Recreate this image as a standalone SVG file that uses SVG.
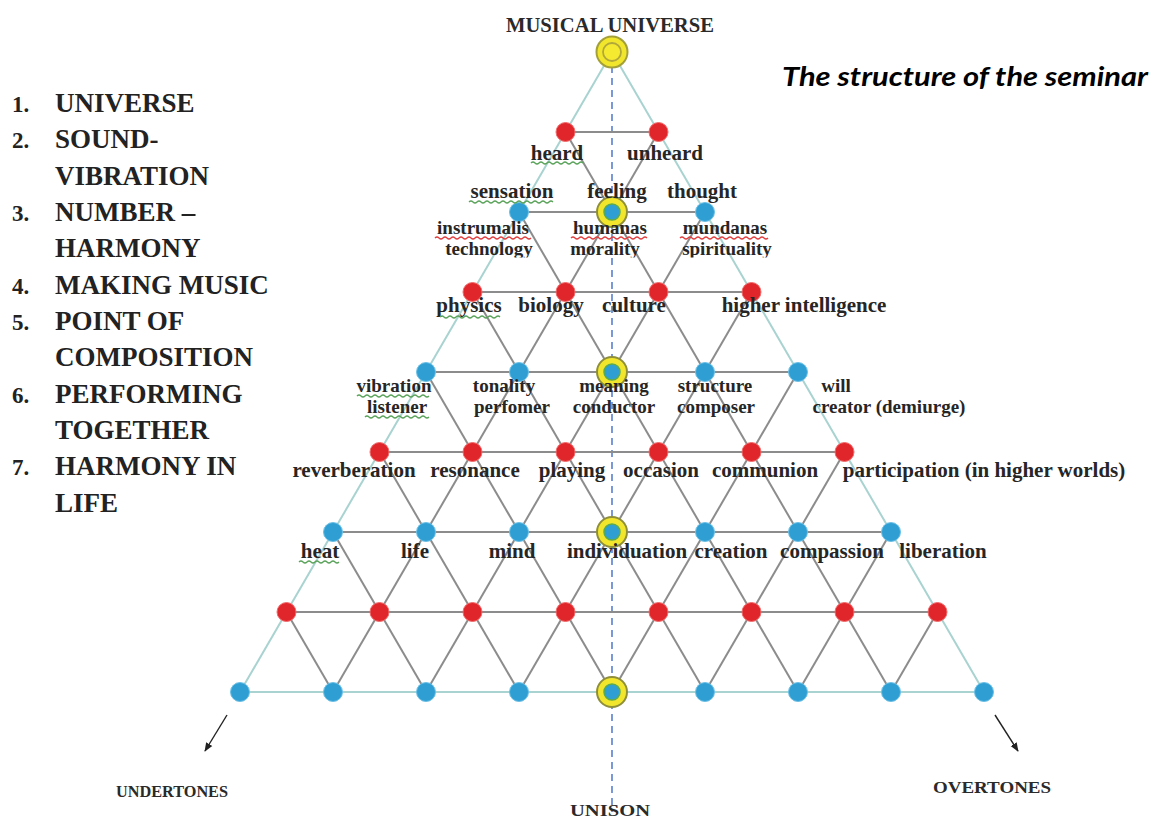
<svg xmlns="http://www.w3.org/2000/svg" xmlns:xlink="http://www.w3.org/1999/xlink" width="1154" height="821" viewBox="0 0 1154 821">
  <style>
    .edge { stroke: #8c8c8c; stroke-width: 2; fill: none; }
    .rim { stroke: #a8d3d0; stroke-width: 2; fill: none; }
    .axis { stroke: #5a7fd0; stroke-width: 1.6; stroke-dasharray: 7 5; fill: none; }
    .lbl { font-family: "Liberation Serif", "DejaVu Serif", serif; font-weight: bold; font-size: 21px; fill: #262626; text-anchor: middle; }
    .sm { font-size: 19px; }
    .cap { font-family: "Liberation Serif", "DejaVu Serif", serif; font-weight: bold; fill: #2a2a2a; text-anchor: middle; }
    .list { font-family: "Liberation Serif", "DejaVu Serif", serif; font-weight: bold; font-size: 27px; fill: #222; }
    .num { font-family: "Liberation Serif", "DejaVu Serif", serif; font-weight: bold; font-size: 23px; fill: #222; }
    .title { font-family: Lato, "Open Sans", "Liberation Sans", sans-serif; font-weight: bold; font-style: italic; font-size: 27px; fill: #000; }
    .wave-g { stroke: #5aa35a; stroke-width: 1.3; fill: none; }
    .wave-r { stroke: #e04040; stroke-width: 1.3; fill: none; }
    .ptr { stroke: #222; stroke-width: 1.4; fill: none; }
  </style>
  <defs>
    <circle id="red" r="9.5" fill="#e1262b" stroke="#f06a6a" stroke-width="1"/>
    <circle id="blue" r="9.5" fill="#2f9fd3" stroke="#6cc0e6" stroke-width="1"/>
    <g id="hub">
      <circle r="15" fill="#f2e62c" stroke="#8f8f3a" stroke-width="2"/>
      <circle r="8" fill="#2f9fd3" stroke="#5daa4a" stroke-width="1.5"/>
    </g>
    <g id="crown">
      <circle r="15.5" fill="#f2e62c" stroke="#a3a03a" stroke-width="2"/>
      <circle r="9" fill="#f6ea30" stroke="#b0a83a" stroke-width="1.8"/>
    </g>
    <marker id="tip" viewBox="0 0 10 10" refX="9" refY="5" markerWidth="9" markerHeight="9" orient="auto" markerUnits="userSpaceOnUse">
      <path d="M0,1 L10,5 L0,9 Z" fill="#222"/>
    </marker>
    <clipPath id="cut-row">
      <rect x="400" y="240" width="420" height="17.5"/>
    </clipPath>
  </defs>

  <rect width="1154" height="821" fill="#ffffff"/>

  <!-- headings -->
  <text class="cap" x="610" y="32" font-size="20" textLength="208" lengthAdjust="spacingAndGlyphs">MUSICAL UNIVERSE</text>
  <text class="title" x="782" y="86" textLength="366" lengthAdjust="spacingAndGlyphs">The structure of the seminar</text>

  <!-- numbered list -->
  <g id="legend">
    <text class="num" x="12" y="112">1.</text><text class="list" x="55" y="112">UNIVERSE</text>
    <text class="num" x="12" y="148">2.</text><text class="list" x="55" y="148">SOUND-</text>
    <text class="list" x="55" y="185">VIBRATION</text>
    <text class="num" x="12" y="221">3.</text><text class="list" x="55" y="221">NUMBER –</text>
    <text class="list" x="55" y="257">HARMONY</text>
    <text class="num" x="12" y="294">4.</text><text class="list" x="55" y="294">MAKING MUSIC</text>
    <text class="num" x="12" y="330">5.</text><text class="list" x="55" y="330">POINT OF</text>
    <text class="list" x="55" y="366">COMPOSITION</text>
    <text class="num" x="12" y="403">6.</text><text class="list" x="55" y="403">PERFORMING</text>
    <text class="list" x="55" y="439">TOGETHER</text>
    <text class="num" x="12" y="475">7.</text><text class="list" x="55" y="475">HARMONY IN</text>
    <text class="list" x="55" y="512">LIFE</text>
  </g>

  <!-- lattice connectors -->
  <g id="connectors">
    <line class="axis" x1="612" y1="66" x2="612" y2="812"/>
    <!-- horizontal rows -->
    <line class="edge" x1="565.5" y1="132" x2="658.5" y2="132"/>
    <line class="edge" x1="519" y1="212" x2="705" y2="212"/>
    <line class="edge" x1="472.5" y1="292" x2="751.5" y2="292"/>
    <line class="edge" x1="426" y1="372" x2="798" y2="372"/>
    <line class="edge" x1="379.5" y1="452" x2="844.5" y2="452"/>
    <line class="edge" x1="333" y1="532" x2="891" y2="532"/>
    <line class="edge" x1="286.5" y1="612" x2="937.5" y2="612"/>
    <line class="rim" x1="240" y1="692" x2="984" y2="692"/>
    <!-- down-left diagonals -->
    <line class="rim" x1="612" y1="52" x2="240" y2="692"/>
    <line class="edge" x1="658.5" y1="132" x2="333" y2="692"/>
    <line class="edge" x1="705" y1="212" x2="426" y2="692"/>
    <line class="edge" x1="751.5" y1="292" x2="519" y2="692"/>
    <line class="edge" x1="798" y1="372" x2="612" y2="692"/>
    <line class="edge" x1="844.5" y1="452" x2="705" y2="692"/>
    <line class="edge" x1="891" y1="532" x2="798" y2="692"/>
    <line class="edge" x1="937.5" y1="612" x2="891" y2="692"/>
    <!-- down-right diagonals -->
    <line class="rim" x1="612" y1="52" x2="984" y2="692"/>
    <line class="edge" x1="565.5" y1="132" x2="891" y2="692"/>
    <line class="edge" x1="519" y1="212" x2="798" y2="692"/>
    <line class="edge" x1="472.5" y1="292" x2="705" y2="692"/>
    <line class="edge" x1="426" y1="372" x2="612" y2="692"/>
    <line class="edge" x1="379.5" y1="452" x2="519" y2="692"/>
    <line class="edge" x1="333" y1="532" x2="426" y2="692"/>
    <line class="edge" x1="286.5" y1="612" x2="333" y2="692"/>
    <!-- outward pointers -->
    <line class="ptr" x1="227" y1="715" x2="205" y2="751" marker-end="url(#tip)"/>
    <line class="ptr" x1="995" y1="715" x2="1018" y2="751" marker-end="url(#tip)"/>
  </g>

  <!-- nodes -->
  <g id="nodes">
    <g id="n0-0"><use xlink:href="#crown" x="612" y="52"/></g>
    <g id="n1-0"><use xlink:href="#red" x="565.5" y="132"/></g>
    <g id="n1-1"><use xlink:href="#red" x="658.5" y="132"/></g>
    <g id="n2-0"><use xlink:href="#blue" x="519" y="212"/></g>
    <g id="n2-1"><use xlink:href="#hub" x="612" y="212"/></g>
    <g id="n2-2"><use xlink:href="#blue" x="705" y="212"/></g>
    <g id="n3-0"><use xlink:href="#red" x="472.5" y="292"/></g>
    <g id="n3-1"><use xlink:href="#red" x="565.5" y="292"/></g>
    <g id="n3-2"><use xlink:href="#red" x="658.5" y="292"/></g>
    <g id="n3-3"><use xlink:href="#red" x="751.5" y="292"/></g>
    <g id="n4-0"><use xlink:href="#blue" x="426" y="372"/></g>
    <g id="n4-1"><use xlink:href="#blue" x="519" y="372"/></g>
    <g id="n4-2"><use xlink:href="#hub" x="612" y="372"/></g>
    <g id="n4-3"><use xlink:href="#blue" x="705" y="372"/></g>
    <g id="n4-4"><use xlink:href="#blue" x="798" y="372"/></g>
    <g id="n5-0"><use xlink:href="#red" x="379.5" y="452"/></g>
    <g id="n5-1"><use xlink:href="#red" x="472.5" y="452"/></g>
    <g id="n5-2"><use xlink:href="#red" x="565.5" y="452"/></g>
    <g id="n5-3"><use xlink:href="#red" x="658.5" y="452"/></g>
    <g id="n5-4"><use xlink:href="#red" x="751.5" y="452"/></g>
    <g id="n5-5"><use xlink:href="#red" x="844.5" y="452"/></g>
    <g id="n6-0"><use xlink:href="#blue" x="333" y="532"/></g>
    <g id="n6-1"><use xlink:href="#blue" x="426" y="532"/></g>
    <g id="n6-2"><use xlink:href="#blue" x="519" y="532"/></g>
    <g id="n6-3"><use xlink:href="#hub" x="612" y="532"/></g>
    <g id="n6-4"><use xlink:href="#blue" x="705" y="532"/></g>
    <g id="n6-5"><use xlink:href="#blue" x="798" y="532"/></g>
    <g id="n6-6"><use xlink:href="#blue" x="891" y="532"/></g>
    <g id="n7-0"><use xlink:href="#red" x="286.5" y="612"/></g>
    <g id="n7-1"><use xlink:href="#red" x="379.5" y="612"/></g>
    <g id="n7-2"><use xlink:href="#red" x="472.5" y="612"/></g>
    <g id="n7-3"><use xlink:href="#red" x="565.5" y="612"/></g>
    <g id="n7-4"><use xlink:href="#red" x="658.5" y="612"/></g>
    <g id="n7-5"><use xlink:href="#red" x="751.5" y="612"/></g>
    <g id="n7-6"><use xlink:href="#red" x="844.5" y="612"/></g>
    <g id="n7-7"><use xlink:href="#red" x="937.5" y="612"/></g>
    <g id="n8-0"><use xlink:href="#blue" x="240" y="692"/></g>
    <g id="n8-1"><use xlink:href="#blue" x="333" y="692"/></g>
    <g id="n8-2"><use xlink:href="#blue" x="426" y="692"/></g>
    <g id="n8-3"><use xlink:href="#blue" x="519" y="692"/></g>
    <g id="n8-4"><use xlink:href="#hub" x="612" y="692"/></g>
    <g id="n8-5"><use xlink:href="#blue" x="705" y="692"/></g>
    <g id="n8-6"><use xlink:href="#blue" x="798" y="692"/></g>
    <g id="n8-7"><use xlink:href="#blue" x="891" y="692"/></g>
    <g id="n8-8"><use xlink:href="#blue" x="984" y="692"/></g>
  </g>

  <!-- node labels -->
  <g id="labels">
    <text class="lbl" x="557" y="160">heard</text>
    <text class="lbl" x="665" y="160">unheard</text>

    <text class="lbl" x="512" y="198">sensation</text>
    <text class="lbl" x="617" y="198">feeling</text>
    <text class="lbl" x="702" y="198">thought</text>

    <text class="lbl sm" x="483" y="234">instrumalis</text>
    <text class="lbl sm" x="610" y="234">humanas</text>
    <text class="lbl sm" x="725" y="234">mundanas</text>
    <g clip-path="url(#cut-row)">
      <text class="lbl sm" x="489" y="255">technology</text>
      <text class="lbl sm" x="605" y="255">morality</text>
      <text class="lbl sm" x="727" y="255">spirituality</text>
    </g>

    <text class="lbl" x="469" y="312">physics</text>
    <text class="lbl" x="551" y="312">biology</text>
    <text class="lbl" x="634" y="312">culture</text>
    <text class="lbl" x="804" y="312">higher intelligence</text>

    <text class="lbl sm" x="394" y="392">vibration</text>
    <text class="lbl sm" x="504" y="392">tonality</text>
    <text class="lbl sm" x="614" y="392">meaning</text>
    <text class="lbl sm" x="715" y="392">structure</text>
    <text class="lbl sm" x="836" y="392">will</text>
    <text class="lbl sm" x="397" y="413">listener</text>
    <text class="lbl sm" x="512" y="413">perfomer</text>
    <text class="lbl sm" x="614" y="413">conductor</text>
    <text class="lbl sm" x="716" y="413">composer</text>
    <text class="lbl sm" x="889" y="413">creator (demiurge)</text>

    <text class="lbl" x="354" y="477">reverberation</text>
    <text class="lbl" x="475" y="477">resonance</text>
    <text class="lbl" x="572" y="477">playing</text>
    <text class="lbl" x="661" y="477">occasion</text>
    <text class="lbl" x="765" y="477">communion</text>
    <text class="lbl" x="984" y="477">participation (in higher worlds)</text>

    <text class="lbl" x="320" y="558">heat</text>
    <text class="lbl" x="415" y="558">life</text>
    <text class="lbl" x="512" y="558">mind</text>
    <text class="lbl" x="627" y="558">individuation</text>
    <text class="lbl" x="731" y="558">creation</text>
    <text class="lbl" x="832" y="558">compassion</text>
    <text class="lbl" x="943" y="558">liberation</text>

    <text class="cap" x="172" y="797" font-size="17" textLength="112" lengthAdjust="spacingAndGlyphs">UNDERTONES</text>
    <text class="cap" x="610" y="816" font-size="17" textLength="80" lengthAdjust="spacingAndGlyphs">UNISON</text>
    <text class="cap" x="992" y="793" font-size="17" textLength="118" lengthAdjust="spacingAndGlyphs">OVERTONES</text>
  </g>

  <!-- proofing squiggles under flagged words -->
  <g id="squiggles">
    <path class="wave-g" d="M531,163 q2,-2 4,0 t4,0 t4,0 t4,0 t4,0 t4,0 t4,0 t4,0 t4,0 t4,0 t4,0 t4,0 t4,0"/>
    <path class="wave-g" d="M469,202 q2,-2 4,0 t4,0 t4,0 t4,0 t4,0 t4,0 t4,0 t4,0 t4,0 t4,0 t4,0 t4,0 t4,0 t4,0 t4,0 t4,0 t4,0 t4,0 t4,0 t4,0 t4,0"/>
    <path class="wave-r" d="M435,238 q2,-2 4,0 t4,0 t4,0 t4,0 t4,0 t4,0 t4,0 t4,0 t4,0 t4,0 t4,0 t4,0 t4,0 t4,0 t4,0 t4,0 t4,0 t4,0 t4,0 t4,0 t4,0 t4,0 t4,0 t4,0"/>
    <path class="wave-r" d="M571,238 q2,-2 4,0 t4,0 t4,0 t4,0 t4,0 t4,0 t4,0 t4,0 t4,0 t4,0 t4,0 t4,0 t4,0 t4,0 t4,0 t4,0 t4,0 t4,0 t4,0"/>
    <path class="wave-r" d="M680,238 q2,-2 4,0 t4,0 t4,0 t4,0 t4,0 t4,0 t4,0 t4,0 t4,0 t4,0 t4,0 t4,0 t4,0 t4,0 t4,0 t4,0 t4,0 t4,0 t4,0 t4,0 t4,0 t4,0"/>
    <path class="wave-g" d="M440,317 q2,-2 4,0 t4,0 t4,0 t4,0 t4,0 t4,0 t4,0 t4,0 t4,0 t4,0 t4,0 t4,0 t4,0 t4,0 t4,0"/>
    <path class="wave-g" d="M357,396 q2,-2 4,0 t4,0 t4,0 t4,0 t4,0 t4,0 t4,0 t4,0 t4,0 t4,0 t4,0 t4,0 t4,0 t4,0 t4,0 t4,0 t4,0 t4,0"/>
    <path class="wave-g" d="M365,417 q2,-2 4,0 t4,0 t4,0 t4,0 t4,0 t4,0 t4,0 t4,0 t4,0 t4,0 t4,0 t4,0 t4,0 t4,0 t4,0 t4,0"/>
    <path class="wave-g" d="M299,562 q2,-2 4,0 t4,0 t4,0 t4,0 t4,0 t4,0 t4,0 t4,0 t4,0 t4,0"/>
  </g>
</svg>
